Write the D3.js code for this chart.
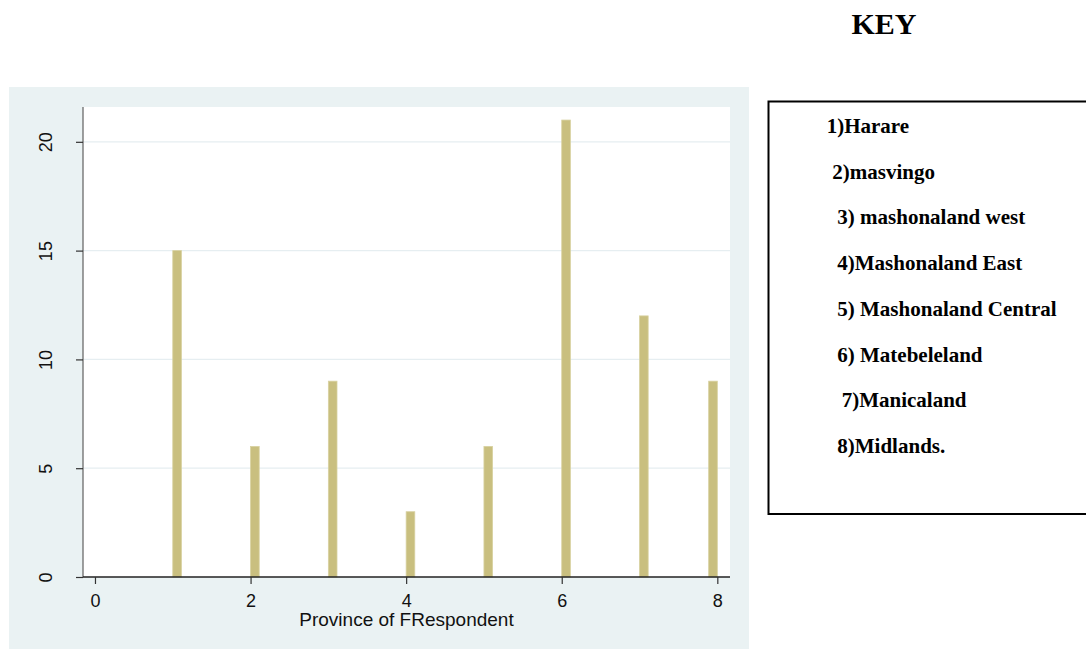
<!DOCTYPE html>
<html>
<head>
<meta charset="utf-8">
<script src="https://cdn.jsdelivr.net/npm/d3@7"></script>
<style>
  html, body { margin: 0; padding: 0; background: #ffffff; }
  svg { display: block; }
</style>
</head>
<body>
<svg id="chart" width="1086" height="649"></svg>
<script>
// ---- data ----
const provinces = [1, 2, 3, 4, 5, 6, 7, 8];
const frequencies = [15, 6, 9, 3, 6, 21, 12, 9];
const xTicks = [0, 2, 4, 6, 8];
const yTicks = [0, 5, 10, 15, 20];
const xTitle = "Province of FRespondent";
const keyTitle = "KEY";
const keyLabels = [
  "1)Harare",
  "2)masvingo",
  "3) mashonaland west",
  "4)Mashonaland East",
  "5) Mashonaland Central",
  "6) Matebeleland",
  "7)Manicaland",
  "8)Midlands."
];

// ---- layout ----
const W = 1086, H = 649;
const panel = { x: 9, y: 87, w: 740, h: 562 };
const plot = { left: 83, top: 107, right: 730, bottom: 577 };
const nBins = 63;
const keyIndent = [826.7, 832.3, 837.3, 837.3, 837.3, 837.3, 841.7, 837.3];

const svg = d3.select("#chart");

svg.append("rect").attr("x", panel.x).attr("y", panel.y)
  .attr("width", panel.w).attr("height", panel.h).attr("fill", "#eaf2f3");
svg.append("rect").attr("x", plot.left).attr("y", plot.top)
  .attr("width", plot.right - plot.left).attr("height", plot.bottom - plot.top)
  .attr("fill", "#ffffff");

const x = d3.scaleLinear().domain([-0.154, 8.163]).range([plot.left, plot.right]);
const y = d3.scaleLinear().domain([0, 21.6]).range([plot.bottom, plot.top]);

// gridlines
svg.append("g").selectAll("line").data(yTicks.filter(d => d > 0)).join("line")
  .attr("x1", plot.left).attr("x2", plot.right)
  .attr("y1", d => y(d)).attr("y2", d => y(d))
  .attr("stroke", "#e6eef1").attr("stroke-width", 1.2);

// histogram bars (Stata-style narrow bins)
const lo = d3.min(provinces), hi = d3.max(provinces);
const bw = (hi - lo) / nBins;
const data = provinces.map((p, i) => {
  const idx = Math.min(nBins - 1, Math.floor((p - lo) / bw + 1e-6));
  return { x0: lo + idx * bw, x1: lo + (idx + 1) * bw, v: frequencies[i] };
});
svg.append("g").selectAll("rect").data(data).join("rect")
  .attr("x", d => x(d.x0))
  .attr("width", d => x(d.x1) - x(d.x0))
  .attr("y", d => y(d.v))
  .attr("height", d => y(0) - y(d.v))
  .attr("fill", "#c9bf7f")
  .attr("stroke", "#d8d1a0")
  .attr("stroke-width", 0.8);

// y axis
const yAxis = d3.axisLeft(y).tickValues(yTicks).tickSize(7).tickPadding(0).tickFormat(d3.format("d"));
const gy = svg.append("g").attr("transform", `translate(${plot.left},0)`).call(yAxis);
gy.select(".domain").attr("stroke", "#6b6b6b").attr("stroke-width", 1.3)
  .attr("d", `M0,${plot.top}V${plot.bottom}`);
gy.selectAll(".tick line").attr("stroke", "#333").attr("stroke-width", 1.2);
gy.selectAll(".tick text")
  .attr("font-family", "'Liberation Sans', Arial, sans-serif")
  .attr("font-size", 18).attr("fill", "#111")
  .attr("text-anchor", "middle")
  .attr("x", null).attr("dy", null)
  .attr("transform", "translate(-31,0) rotate(-90)")
  .attr("y", 0);

// x axis
const xAxis = d3.axisBottom(x).tickValues(xTicks).tickSize(7).tickPadding(4).tickFormat(d3.format("d"));
const gx = svg.append("g").attr("transform", `translate(0,${plot.bottom})`).call(xAxis);
gx.select(".domain").attr("stroke", "#222").attr("stroke-width", 1.3)
  .attr("d", `M${plot.left},0H${plot.right}`);
gx.selectAll(".tick line").attr("stroke", "#333").attr("stroke-width", 1.2);
gx.selectAll(".tick text")
  .attr("font-family", "'Liberation Sans', Arial, sans-serif")
  .attr("font-size", 18).attr("fill", "#111")
  .attr("dy", null).attr("y", 30);

svg.append("text")
  .attr("x", (plot.left + plot.right) / 2).attr("y", 626)
  .attr("text-anchor", "middle")
  .attr("font-family", "'Liberation Sans', Arial, sans-serif")
  .attr("font-size", 19).attr("fill", "#111")
  .text(xTitle);

// KEY
svg.append("text")
  .attr("x", 884).attr("y", 34)
  .attr("text-anchor", "middle")
  .attr("font-family", "'Liberation Serif', 'Times New Roman', serif")
  .attr("font-weight", "bold").attr("font-size", 30).attr("fill", "#000")
  .text(keyTitle);

svg.append("rect")
  .attr("x", 768.5).attr("y", 101.5).attr("width", 330).attr("height", 412.5)
  .attr("fill", "none").attr("stroke", "#000").attr("stroke-width", 2);

svg.append("g").selectAll("text").data(keyLabels).join("text")
  .attr("x", (d, i) => keyIndent[i])
  .attr("y", (d, i) => 133 + i * 45.7)
  .attr("font-family", "'Liberation Serif', 'Times New Roman', serif")
  .attr("font-weight", "bold").attr("font-size", 21).attr("fill", "#000")
  .text(d => d);
</script>
</body>
</html>
